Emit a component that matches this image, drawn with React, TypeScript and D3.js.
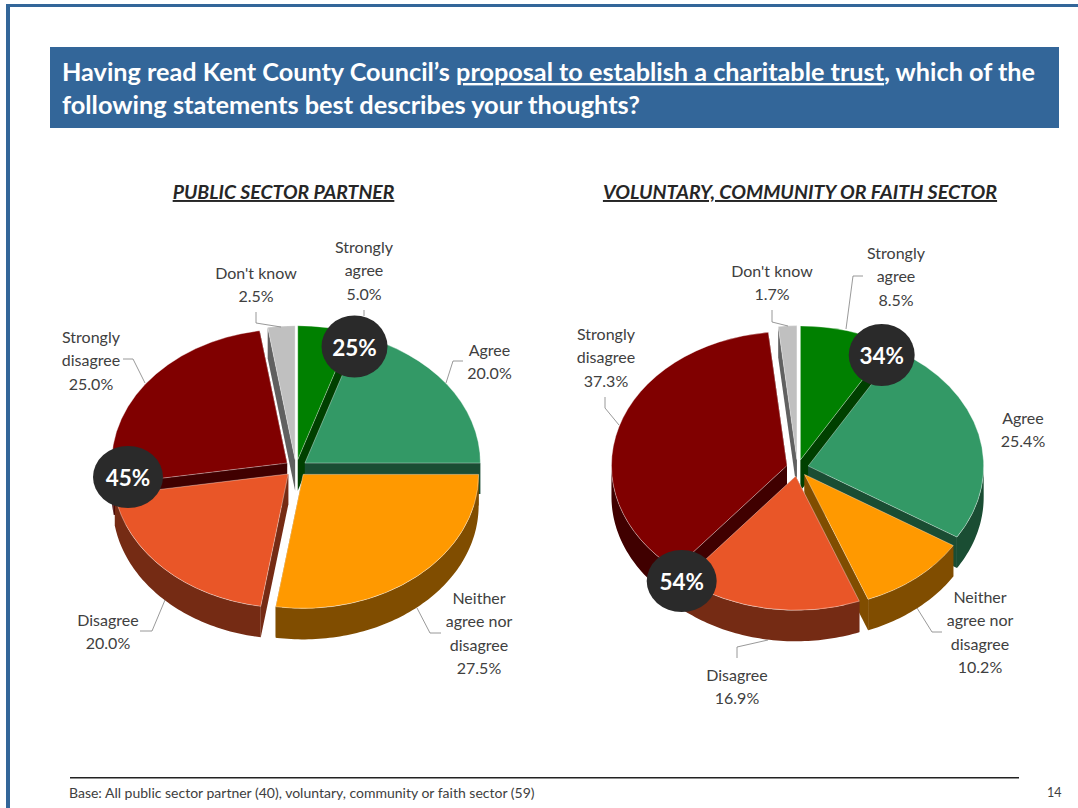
import React from 'react';
import * as d3 from 'd3';

const categories = ['Strongly agree', 'Agree', 'Neither agree nor disagree', 'Disagree', 'Strongly disagree', "Don't know"];
const publicValues = [5.0, 20.0, 27.5, 20.0, 25.0, 2.5];
const voluntaryValues = [8.5, 25.4, 10.2, 16.9, 37.3, 1.7];
const topColors = ['#008000', '#339966', '#ff9900', '#e95628', '#800000', '#c0c0c0'];
const wallColors = ['#004000', '#1a4d33', '#804d00', '#752b14', '#400000', '#606060'];

// label line breaks, same for both pies
const labelLines = [['Strongly', 'agree'], ['Agree'], ['Neither', 'agree nor', 'disagree'], ['Disagree'], ['Strongly', 'disagree'], ["Don't know"]];

const FONT = 'Lato, Carlito, Calibri, sans-serif';
const RX = 175.5;
const RY = 134;
const DEPTH = 31;
const EXPLODE = 11;

type Pt = [number, number];

// label centre x, first line centre y, per category
const publicLabels: Pt[] = [[364, 247], [489.5, 350], [479, 598], [108, 620], [91, 337], [256, 273]];
const voluntaryLabels: Pt[] = [[896, 253], [1023, 418], [980, 597], [737, 675], [606, 334], [772, 271]];

const publicLeaders: Pt[][] = [
  [[364, 310], [364, 316]],
  [[463, 361], [453, 361], [446, 383]],
  [[441, 633], [430, 633], [417, 608]],
  [[140, 631], [152, 631], [165, 600]],
  [[123, 359], [133, 359], [145, 383]],
  [[256, 312], [256, 323], [281, 327]],
];
const voluntaryLeaders: Pt[][] = [
  [[863, 276], [853, 276], [846, 329]],
  [],
  [[942, 632], [932, 632], [917, 608]],
  [[737, 658], [737, 647], [768, 640]],
  [[605, 397], [605, 408], [619, 425]],
  [[772, 310], [772, 322], [788, 326]],
];

const line = d3.line();

const Pie3D = ({ values, cx, cy, labels, leaders }: { values: number[]; cx: number; cy: number; labels: Pt[]; leaders: Pt[][] }) => {
  const pie = d3.pie<number>().value(d => d).sort(null);
  const arc = d3.arc<any>().innerRadius(0).outerRadius(RX);
  const onEllipse = (ox: number, oy: number, a: number): Pt => [ox + RX * Math.sin(a), oy - RY * Math.cos(a)];

  const slices = pie(values).map((s, i) => {
    const mid = (s.startAngle + s.endAngle) / 2;
    const ox = cx + EXPLODE * Math.sin(mid);
    const oy = cy - EXPLODE * (RY / RX) * Math.cos(mid);
    return { ...s, i, ox, oy };
  });
  // back slices first
  const ordered = [...slices].sort((a, b) => a.oy - b.oy);

  return (
    <g>
      {ordered.map(s => {
        const a0 = Math.max(s.startAngle, Math.PI / 2);
        const a1 = Math.min(s.endAngle, (3 * Math.PI) / 2);
        const angles = a1 > a0 ? [...d3.range(a0, a1, 0.02), a1] : [];
        const top = angles.map(a => onEllipse(s.ox, s.oy, a));
        const bottom = angles.map(a => onEllipse(s.ox, s.oy + DEPTH, a)).reverse();
        const radial = (a: number): Pt[] => {
          const e = onEllipse(s.ox, s.oy, a);
          return [[s.ox, s.oy], e, [e[0], e[1] + DEPTH], [s.ox, s.oy + DEPTH]];
        };
        return (
          <g key={s.i}>
            <title>{categories[s.i]}</title>
            <path d={line(radial(s.startAngle))! + 'Z'} fill={wallColors[s.i]} />
            <path d={line(radial(s.endAngle))! + 'Z'} fill={wallColors[s.i]} />
            {angles.length > 0 && <path d={line([...top, ...bottom])! + 'Z'} fill={wallColors[s.i]} />}
            <path
              d={arc(s)!}
              transform={`translate(${s.ox},${s.oy}) scale(1,${RY / RX})`}
              fill={topColors[s.i]}
              stroke="#fff"
              strokeOpacity={0.6}
              strokeWidth={0.6}
              vectorEffect="non-scaling-stroke"
            />
          </g>
        );
      })}
      {leaders.map((pts, i) => pts.length > 0 && (
        <path key={i} d={line(pts)!} fill="none" stroke="#7f7f7f" strokeWidth={0.8} />
      ))}
      {slices.map(s => {
        const [lx, ly] = labels[s.i];
        const lines = [...labelLines[s.i], `${values[s.i].toFixed(1)}%`];
        return (
          <text key={s.i} textAnchor="middle" fontFamily={FONT} fontSize={16} fill="#404040">
            {lines.map((t, k) => (
              <tspan key={k} x={lx} y={ly + 5.5 + k * 23.6}>{t}</tspan>
            ))}
          </text>
        );
      })}
    </g>
  );
};

const bubbles = [
  { label: '25%', x: 354.5, y: 346.5, rx: 33 },
  { label: '45%', x: 128, y: 477, rx: 35 },
  { label: '34%', x: 881.7, y: 355, rx: 33 },
  { label: '54%', x: 681.7, y: 581, rx: 35 },
];

export default function App() {
  return (
    <svg width={1078} height={808} style={{ position: 'absolute', left: 0, top: 0, background: '#fff' }}>
      <rect x={6} y={4} width={1072} height={3} fill="#336699" />
      <rect x={6} y={4} width={4} height={804} fill="#336699" />

      <rect x={50} y={47} width={1009} height={81} fill="#336699" />
      <text x={62} y={81} fontFamily={FONT} fontSize={24} fontWeight={700} fill="#fff" textLength={973} lengthAdjust="spacingAndGlyphs">
        Having read Kent County Council’s <tspan textDecoration="underline">proposal to establish a charitable trust</tspan>, which of the
      </text>
      <text x={62} y={114} fontFamily={FONT} fontSize={24} fontWeight={700} fill="#fff" textLength={578} lengthAdjust="spacingAndGlyphs">
        following statements best describes your thoughts?
      </text>

      <text x={283.5} y={199} textAnchor="middle" fontFamily={FONT} fontSize={19.4} fontWeight={700} fontStyle="italic" textDecoration="underline" fill="#262626">
        PUBLIC SECTOR PARTNER
      </text>
      <text x={800} y={199} textAnchor="middle" fontFamily={FONT} fontSize={19.6} fontWeight={700} fontStyle="italic" textDecoration="underline" fill="#262626">
        VOLUNTARY, COMMUNITY OR FAITH SECTOR
      </text>

      <Pie3D values={publicValues} cx={296} cy={468} labels={publicLabels} leaders={publicLeaders} />
      <Pie3D values={voluntaryValues} cx={797.5} cy={468} labels={voluntaryLabels} leaders={voluntaryLeaders} />

      {bubbles.map(b => (
        <g key={b.label}>
          <ellipse cx={b.x} cy={b.y} rx={b.rx} ry={31} fill="#2a2a2a" />
          <text x={b.x} y={b.y + 9} textAnchor="middle" fontFamily={FONT} fontSize={22.5} fontWeight={700} fill="#fff">{b.label}</text>
        </g>
      ))}

      <rect x={70} y={777} width={949} height={1.5} fill="#222" />
      <text x={69} y={798} fontFamily={FONT} fontSize={14} fill="#404040">
        Base: All public sector partner (40), voluntary, community or faith sector (59)
      </text>
      <text x={1047} y={797} fontFamily={FONT} fontSize={12.5} fill="#404040">14</text>
    </svg>
  );
}
